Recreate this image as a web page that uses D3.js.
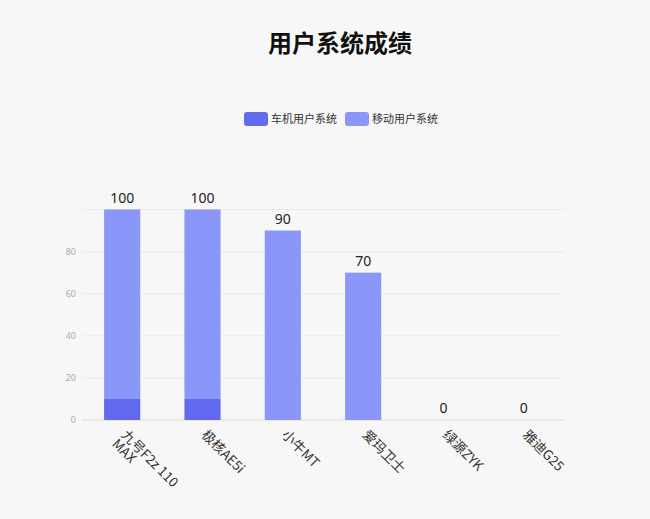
<!DOCTYPE html>
<html><head><meta charset="utf-8">
<script src="https://cdn.jsdelivr.net/npm/d3@7/dist/d3.min.js"></script>
<style>
html,body{margin:0;padding:0;background:#f7f7f7;}
svg{display:block;font-family:"Noto Sans CJK SC","Noto Sans",sans-serif;}
</style></head>
<body>
<svg id="c" width="650" height="519"></svg>
<script>
const categories = ["九号F2z 110 MAX", "极核AE5i", "小牛MT", "爱玛卫士", "绿源ZYK", "雅迪G25"];
const labelLines = [["九号F2z 110", "MAX"], ["极核AE5i"], ["小牛MT"], ["爱玛卫士"], ["绿源ZYK"], ["雅迪G25"]];
const seriesNames = ["车机用户系统", "移动用户系统"];
const carValues = [10, 10, 0, 0, 0, 0];
const mobileValues = [90, 90, 90, 70, 0, 0];
const yTicks = [0, 20, 40, 60, 80];
const colors = ["#6369ee", "#8a97f9"];

const svg = d3.select("#c");
const W = 650, H = 519;
const m = {left: 82, right: 86, top: 209.5, bottom: 99};
const x = d3.scaleBand().domain(categories).range([m.left, W - m.right]).paddingInner(0.55).paddingOuter(0.275);
const y = d3.scaleLinear().domain([0, 100]).range([H - m.bottom, m.top]);

// title
svg.append("text").attr("x", 340).attr("y", 52).attr("text-anchor", "middle")
  .attr("font-size", 24).attr("font-weight", "bold").attr("fill", "#111").text("用户系统成绩");

// legend
const legendX = [244, 345];
seriesNames.forEach((s, i) => {
  svg.append("rect").attr("x", legendX[i]).attr("y", 112).attr("width", 24).attr("height", 14)
    .attr("rx", 3).attr("fill", colors[i]);
  svg.append("text").attr("x", legendX[i] + 27).attr("y", 123).attr("font-size", 11)
    .attr("fill", "#333").text(s);
});

// grid
const grid = svg.append("g");
[...yTicks, 100].forEach(t => {
  grid.append("line").attr("x1", m.left).attr("x2", W - m.right).attr("y1", y(t)).attr("y2", y(t))
    .attr("stroke", t === 0 ? "#dcdcdc" : "#ebebeb").attr("stroke-width", 1);
});
// y axis labels
const yAxis = d3.axisLeft(y).tickValues(yTicks).tickSize(0).tickPadding(6);
const ya = svg.append("g").attr("transform", `translate(${m.left},0)`).call(yAxis);
ya.select(".domain").remove();
ya.selectAll("text").attr("font-size", 9).attr("fill", "#aaa").attr("font-family", "'Noto Sans',sans-serif");

// stacked bars
const data = categories.map((c, i) => ({cat: c, car: carValues[i], mobile: mobileValues[i]}));
const stack = d3.stack().keys(["car", "mobile"])(data);
stack.forEach((layer, li) => {
  svg.append("g").selectAll("rect").data(layer).join("rect")
    .attr("x", d => x(d.data.cat)).attr("width", x.bandwidth())
    .attr("y", d => y(d[1])).attr("height", d => y(d[0]) - y(d[1]))
    .attr("fill", colors[li]);
});

// totals
svg.append("g").selectAll("text").data(data).join("text")
  .attr("x", d => x(d.cat) + x.bandwidth() / 2)
  .attr("y", d => y(d.car + d.mobile) - 7)
  .attr("text-anchor", "middle").attr("font-size", 14).attr("fill", "#222")
  .attr("font-family", "'Noto Sans',sans-serif")
  .text(d => d.car + d.mobile);

// x labels
const xl = svg.append("g");
categories.forEach((c, i) => {
  const cx = x(c) + x.bandwidth() / 2;
  const t = xl.append("text").attr("transform", `translate(${cx + 5},${H - m.bottom + 9}) rotate(45)`)
    .attr("font-size", 13.5).attr("fill", "#333");
  labelLines[i].forEach((ln, k) => {
    t.append("tspan").attr("x", 0).attr("dy", k === 0 ? "0.71em" : "0.95em").text(ln);
  });
});
</script>
</body></html>
